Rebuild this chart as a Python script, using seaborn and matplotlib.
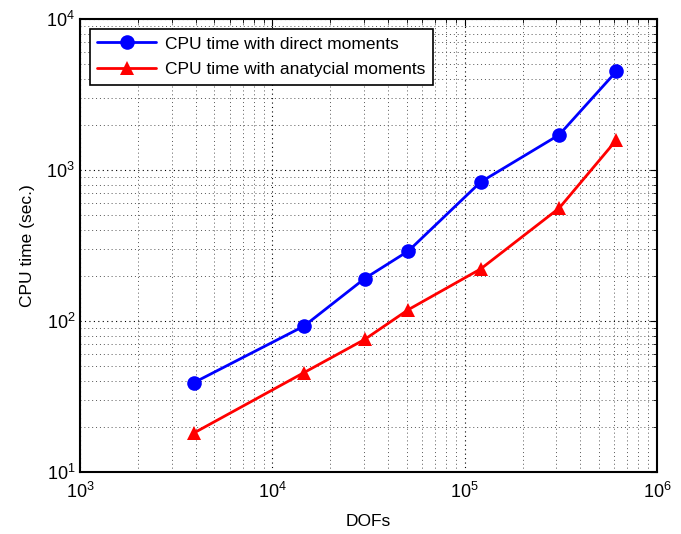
import numpy as np
import pandas as pd
import matplotlib
matplotlib.use("Agg")
import matplotlib.pyplot as plt
import seaborn as sns
from matplotlib.ticker import LogLocator, NullFormatter

# Degrees of freedom and CPU times (seconds)
dofs = [3900, 14600, 30200, 51000, 121000, 310000, 615000]
time_direct = [39, 92.5, 191, 291, 832, 1710, 4500]
time_analytical = [18.1, 45.5, 75.5, 119, 221, 559, 1580]

label_direct = "CPU time with direct moments"
label_analytical = "CPU time with anatycial moments"

df = pd.DataFrame({
    "DOFs": dofs * 2,
    "time": time_direct + time_analytical,
    "method": [label_direct] * len(dofs) + [label_analytical] * len(dofs),
})

sns.set_style("white")
plt.rcParams["font.family"] = ["Liberation Sans", "DejaVu Sans"]
plt.rcParams["mathtext.fontset"] = "custom"
plt.rcParams["mathtext.rm"] = "Liberation Sans"
plt.rcParams["mathtext.it"] = "Liberation Sans"
plt.rcParams["text.color"] = "black"
plt.rcParams["axes.labelcolor"] = "black"

fig = plt.figure(figsize=(6.81, 5.34), dpi=100)
ax = fig.add_axes([80 / 681, 1 - 472 / 534, 577 / 681, 453 / 534])

sns.lineplot(
    data=df, x="DOFs", y="time", hue="method", style="method",
    palette={label_direct: "#0000ff", label_analytical: "#ff0000"},
    markers={label_direct: "o", label_analytical: "^"},
    dashes=False, linewidth=2, markersize=10.5, markeredgewidth=0,
    ax=ax, sort=False,
)

ax.set_xscale("log")
ax.set_yscale("log")
ax.set_xlim(1e3, 1e6)
ax.set_ylim(1e1, 1e4)

ax.xaxis.set_major_locator(LogLocator(base=10, numticks=10))
ax.yaxis.set_major_locator(LogLocator(base=10, numticks=10))
ax.xaxis.set_minor_locator(LogLocator(base=10, subs=np.arange(2, 10), numticks=10))
ax.yaxis.set_minor_locator(LogLocator(base=10, subs=np.arange(2, 10), numticks=10))
ax.xaxis.set_minor_formatter(NullFormatter())
ax.yaxis.set_minor_formatter(NullFormatter())

ax.grid(True, which="major", linestyle=(0, (1, 3)), color="black", linewidth=0.8)
ax.grid(True, which="minor", linestyle=(0, (1, 3)), color="#555555", linewidth=0.7)

ax.tick_params(which="both", direction="in", top=True, right=True,
               labelsize=13, colors="black")
ax.tick_params(which="major", length=5, width=0.8)
ax.tick_params(which="minor", length=3, width=0.6)
ax.tick_params(axis="x", which="major", pad=7)

for s in ax.spines.values():
    s.set_color("black")
    s.set_linewidth(1.5)

ax.set_xlabel("DOFs", fontsize=12.5, labelpad=9)
ax.set_ylabel("CPU time (sec.)", fontsize=12.5, labelpad=8)

leg = ax.legend(loc="upper left", fontsize=12.5, frameon=True, fancybox=False,
                edgecolor="black", framealpha=1, handlelength=3.4,
                borderaxespad=0.55, borderpad=0.45, labelspacing=0.6,
                handletextpad=0.5)
leg.get_frame().set_linewidth(1.2)
leg.set_title(None)

fig.savefig("out.png", dpi=100)
